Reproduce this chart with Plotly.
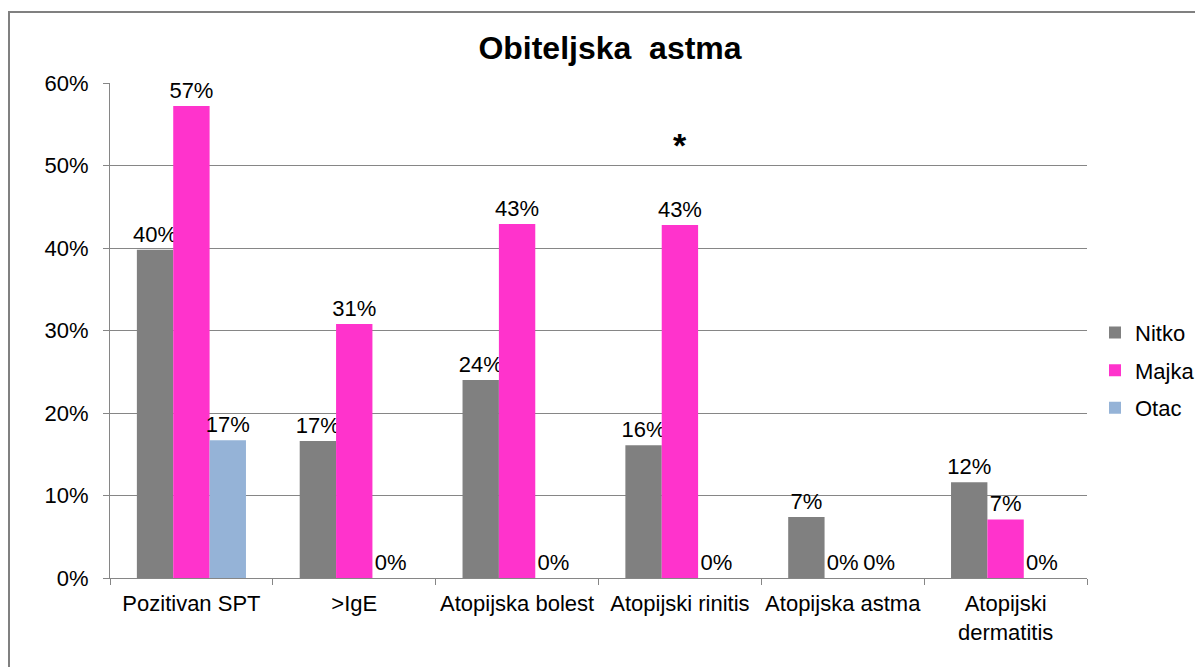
import plotly.graph_objects as go

categories = ["Pozitivan SPT", ">IgE", "Atopijska bolest", "Atopijski rinitis",
              "Atopijska astma", "Atopijski<br>dermatitis"]
nitko = [0.398, 0.166, 0.240, 0.161, 0.074, 0.116]
majka = [0.572, 0.308, 0.429, 0.428, 0.0, 0.071]
otac = [0.167, 0.0, 0.0, 0.0, 0.0, 0.0]

series = [("Nitko", nitko, "#808080"),
          ("Majka", majka, "#FF33CC"),
          ("Otac", otac, "#95B3D7")]

font = "Liberation Sans, Arial, sans-serif"
grid = "#868686"

# page body has an 8px margin, so the figure is a bit smaller than the window
W, H = 1195, 659

fig = go.Figure()
for name, vals, col in series:
    fig.add_trace(go.Bar(
        x=categories, y=vals, name=name,
        marker=dict(color=col, line=dict(width=0)),
        texttemplate="%{y:.0%}", textposition="outside",
        textfont=dict(size=22, color="black", family=font),
        constraintext="none", cliponaxis=False,
        legendgroup=name,
    ))

fig.update_layout(
    width=W, height=H,
    margin=dict(l=102, r=116, t=75, b=89),
    paper_bgcolor="white", plot_bgcolor="white",
    font=dict(family=font, color="black"),
    title=dict(text="<b>Obiteljska  astma</b>", x=602 / W, xanchor="center",
               y=1 - 40 / H, yanchor="middle",
               font=dict(size=32, family=font, color="black")),
    barmode="group", bargap=0.33, bargroupgap=0,
    legend=dict(xref="container", yref="container",
                x=1087 / W, xanchor="left", y=0.539, yanchor="top",
                traceorder="grouped", tracegroupgap=6,
                font=dict(size=22, family=font), itemwidth=30,
                bgcolor="rgba(0,0,0,0)"),
    showlegend=True,
)

fig.update_yaxes(range=[0, 0.6], dtick=0.1, tickformat=".0%",
                 showgrid=True, gridcolor=grid, gridwidth=1,
                 showline=True, linecolor=grid, linewidth=1,
                 ticks="outside", ticklen=6, tickcolor=grid,
                 ticklabelstandoff=10, automargin=False,
                 tickfont=dict(size=22, family=font, color="black"),
                 zeroline=False)
fig.update_xaxes(showline=True, linecolor=grid, linewidth=1,
                 ticks="outside", ticklen=6, tickcolor=grid,
                 tickson="boundaries", ticklabelstandoff=6,
                 tickangle=0, automargin=False,
                 tickfont=dict(size=22, family=font, color="black"))

# significance marker
fig.add_annotation(x="Atopijski rinitis", y=0.525, xref="x", yref="y",
                   text="<b>*</b>", showarrow=False,
                   font=dict(size=34, family=font, color="black"))

# chart border
fig.add_shape(type="rect", xref="paper", yref="paper",
              x0=-101 / 977, x1=1.3, y0=-0.3, y1=1 + 71 / 495,
              line=dict(color="#808080", width=2), fillcolor="rgba(0,0,0,0)")

fig.write_html("out.html")
